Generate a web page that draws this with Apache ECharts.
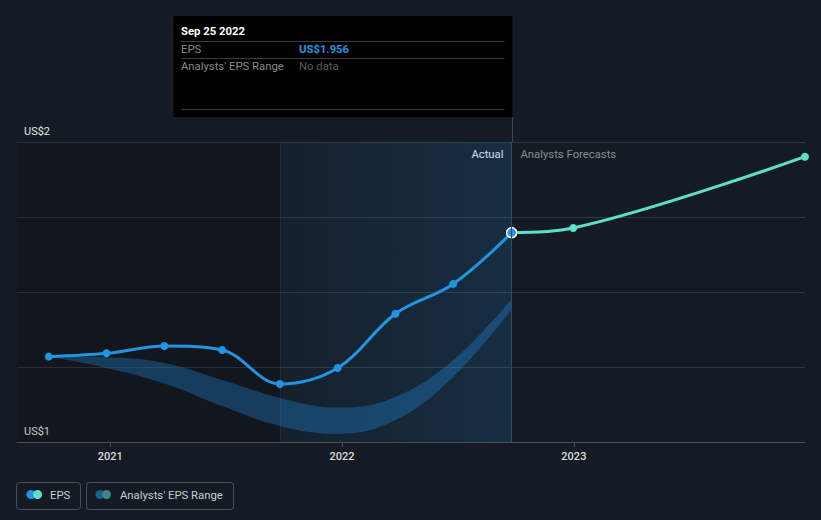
<!DOCTYPE html>
<html>
<head>
<meta charset="utf-8">
<script src="https://cdn.jsdelivr.net/npm/echarts@6/dist/echarts.min.js"></script>
<style>
  html, body { margin: 0; padding: 0; background: #151b24; }
  #chart { width: 821px; height: 520px; }
</style>
</head>
<body>
<div id="chart"></div>
<script>
// ---- data ----
const epsDates = ['2020-09-26','2020-12-26','2021-03-27','2021-06-26','2021-09-25','2021-12-25','2022-03-26','2022-06-25','2022-09-25'];
const epsValues = [1.390, 1.405, 1.438, 1.420, 1.265, 1.338, 1.586, 1.722, 1.956];
const forecastDates = ['2022-09-25','2022-12-31','2023-12-31'];
const forecastValues = [1.956, 1.977, 2.303];
const rangeLow  = [1.390, 1.338, 1.267, 1.164, 1.073, 1.037, 1.100, 1.297, 1.607];
const rangeHigh = [1.390, 1.387, 1.361, 1.283, 1.201, 1.157, 1.206, 1.374, 1.653];
const axisMin = 1.0, axisMax = 2.37;
const yLabels = { min: 'US$1', max: 'US$2' };
const xStart = '2020-08-07', xEnd = '2023-12-31';
const pastStart = '2021-09-25', actualEnd = '2022-09-25';

const FONT = 'Roboto, "Noto Sans", sans-serif';
const chart = echarts.init(document.getElementById('chart'), null, { renderer: 'svg' });

const lowData = epsDates.map((d, i) => [d, rangeLow[i]]);
const diffData = epsDates.map((d, i) => [d, +(rangeHigh[i] - rangeLow[i]).toFixed(4)]);
const epsData = epsDates.map((d, i) => {
  const last = i === epsDates.length - 1;
  return last ? { value: [d, epsValues[i]], symbolSize: 10,
    itemStyle: { color: '#2394df', borderColor: '#ffffff', borderWidth: 1.5 } } : [d, epsValues[i]];
});
const fcData = forecastDates.map((d, i) => i === 0 ? { value: [d, forecastValues[i]], symbol: 'none' } : [d, forecastValues[i]]);

chart.setOption({
  backgroundColor: '#151b24',
  animation: false,
  grid: { left: 17, right: 16, top: 142, bottom: 78 },
  xAxis: {
    type: 'time', min: xStart, max: xEnd,
    minInterval: 365 * 24 * 3600 * 1000,
    axisLine: { lineStyle: { color: '#4a4f57', width: 1 } },
    axisTick: { show: true, length: 5, lineStyle: { color: '#4a4f57' } },
    splitLine: { show: false },
    axisLabel: { color: '#dddddd', fontFamily: FONT, fontSize: 11, fontWeight: 500, margin: 9,
      formatter: '{yyyy}', showMinLabel: false, showMaxLabel: false }
  },
  yAxis: [{
    type: 'value', min: axisMin, max: axisMax,
    axisLine: { show: false }, axisTick: { show: false }, splitLine: { show: false },
    axisLabel: { inside: true, margin: 7, color: '#e6e6e6', fontFamily: FONT, fontSize: 11,
      verticalAlign: 'bottom', padding: [0, 0, 5, 0],
      formatter: v => Math.abs(v - axisMin) < 1e-9 ? yLabels.min : (Math.abs(v - axisMax) < 1e-9 ? yLabels.max : '') }
  }, {
    type: 'value', min: 0, max: 4, interval: 1, position: 'left',
    axisLine: { show: false }, axisTick: { show: false }, axisLabel: { show: false },
    splitLine: { lineStyle: { color: '#31363e', width: 1 } }
  }],
  series: [
    {
      name: 'rangeLow', type: 'line', stack: 'range', data: lowData, smooth: 0.4,
      symbol: 'none', lineStyle: { opacity: 0 }, silent: true, z: 1,
      markArea: {
        silent: true,
        data: [
          [{ xAxis: xStart, itemStyle: { color: 'rgba(0,0,0,0.14)' } }, { xAxis: pastStart }],
          [{ xAxis: pastStart, itemStyle: { color: { type: 'linear', x: 0, y: 0, x2: 1, y2: 0,
              colorStops: [{ offset: 0, color: 'rgba(33,150,243,0.04)' }, { offset: 1, color: 'rgba(33,150,243,0.15)' }] } } },
           { xAxis: actualEnd }]
        ]
      },
      markLine: {
        silent: true, symbol: 'none', label: { show: false },
        data: [
          { xAxis: pastStart, lineStyle: { color: 'rgba(80,120,160,0.12)', type: 'solid', width: 1 } },
          { xAxis: actualEnd, lineStyle: { color: '#35485c', type: 'solid', width: 1 } }
        ]
      }
    },
    {
      name: "Analysts' EPS Range", type: 'line', stack: 'range', data: diffData, smooth: 0.4,
      symbol: 'none', lineStyle: { opacity: 0 }, silent: true, z: 2,
      areaStyle: { color: 'rgba(33,150,243,0.3)', opacity: 1 }
    },
    {
      name: 'EPS', type: 'line', data: epsData, smooth: 0.35, z: 4,
      symbol: 'circle', symbolSize: 8,
      lineStyle: { color: '#2394df', width: 3 },
      itemStyle: { color: '#2394df' }
    },
    {
      name: 'Forecast', type: 'line', data: fcData, smooth: 0.35, z: 3,
      symbol: 'circle', symbolSize: 8, clip: false,
      lineStyle: { color: '#5ce0c8', width: 3 },
      itemStyle: { color: '#5ce0c8' }
    }
  ]
});

// decorations positioned from the axis scale
const p = chart.convertToPixel({ gridIndex: 0 }, [actualEnd, axisMax]);
const px = Math.round(p[0]) + 0.5;
const gridTop = p[1];
const tipW = 339, tipL = px - tipW;
const FS = 11.3;
const txt = (x, y, s, color, size, weight, align) => ({
  type: 'text', x, y, silent: true,
  style: { text: s, fill: color, font: `${weight || 'normal'} ${size}px ${FONT}`, textAlign: align || 'left', textVerticalAlign: 'middle' }
});
const hline = (x1, x2, y, color) => ({ type: 'line', silent: true, shape: { x1, y1: y, x2, y2: y }, style: { stroke: color, lineWidth: 1 } });

chart.setOption({
  graphic: [
    { type: 'line', silent: true, shape: { x1: px, y1: 117, x2: px, y2: gridTop }, style: { stroke: '#35485c', lineWidth: 1 } },
    txt(px - 9, 154, 'Actual', '#e8e8e8', FS, 'normal', 'right'),
    txt(px + 8, 154, 'Analysts Forecasts', '#8c8c8c', FS, 'normal', 'left'),
    // tooltip box
    { type: 'rect', silent: true, shape: { x: tipL, y: 16, width: tipW, height: 101 }, style: { fill: '#000000' } },
    txt(tipL + 7.5, 31, 'Sep 25 2022', '#ffffff', FS, 'bold'),
    hline(tipL + 8, px - 8, 41.5, '#3d3d3d'),
    txt(tipL + 7.5, 49, 'EPS', '#8a8a8a', FS),
    txt(tipL + 125.5, 49, 'US$1.956', '#2394df', FS, 'bold'),
    hline(tipL + 8, px - 8, 58.5, '#3d3d3d'),
    txt(tipL + 7.5, 66.5, "Analysts' EPS Range", '#8a8a8a', FS),
    txt(tipL + 125.5, 66.5, 'No data', '#5c5c5c', FS),
    hline(tipL + 8, px - 8, 109.5, '#3d3d3d'),
    // legend
    { type: 'rect', silent: true, shape: { x: 16.5, y: 482.5, width: 64, height: 27, r: 3 }, style: { fill: 'none', stroke: '#4a4f57', lineWidth: 1 } },
    { type: 'circle', silent: true, shape: { cx: 31, cy: 494.5, r: 4.5 }, style: { fill: '#2394df' } },
    { type: 'circle', silent: true, shape: { cx: 37.5, cy: 494.5, r: 4.5 }, style: { fill: '#5ce0c8' } },
    txt(50, 495, 'EPS', '#cccccc', FS),
    { type: 'rect', silent: true, shape: { x: 86.5, y: 482.5, width: 147, height: 27, r: 3 }, style: { fill: 'none', stroke: '#4a4f57', lineWidth: 1 } },
    { type: 'circle', silent: true, shape: { cx: 100, cy: 494.5, r: 4.5 }, style: { fill: '#1f5f8f' } },
    { type: 'circle', silent: true, shape: { cx: 106.5, cy: 494.5, r: 4.5 }, style: { fill: '#3f8585' } },
    txt(120, 495, "Analysts' EPS Range", '#cccccc', FS)
  ]
});
</script>
</body>
</html>
